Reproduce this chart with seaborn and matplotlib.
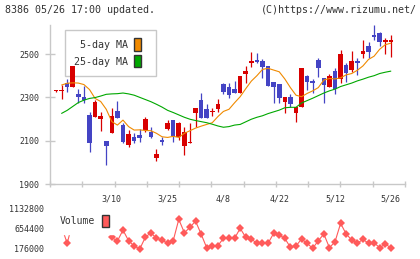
# -*- coding: utf-8 -*-
"""
Candlestick chart with moving averages and volume
"""

# import libraries
import numpy as np
import seaborn as sns
import matplotlib.pyplot as plt
from matplotlib.patches import Patch

# set theme
sns.set_theme(style="white")
plt.rcParams['font.family'] = ['DejaVu Sans Mono']

# daily prices (one entry per trading day)
opens = [2329, 2329, 2367, 2349, 2315, 2300, 2218, 2211, 2201, 2098,
         2134, 2238, 2172, 2080, 2118, 2126, 2149, 2141, 2019, 2103,
         2152, 2195, 2118, 2075, 2088, 2229, 2288, 2245, 2233, 2245,
         2362, 2349, 2337, 2321, 2406, 2460, 2472, 2468, 2445, 2372,
         2362, 2277, 2303, 2229, 2257, 2398, 2375, 2472, 2388, 2349,
         2423, 2383, 2449, 2426, 2468, 2499, 2537, 2588, 2595, 2557,
         2557]
highs = [2332, 2355, 2383, 2445, 2340, 2352, 2232, 2288, 2232, 2098,
         2251, 2283, 2180, 2149, 2134, 2154, 2211, 2164, 2060, 2118,
         2195, 2195, 2187, 2164, 2180, 2252, 2321, 2269, 2249, 2291,
         2367, 2367, 2375, 2398, 2445, 2511, 2503, 2475, 2445, 2372,
         2362, 2303, 2315, 2257, 2437, 2403, 2383, 2480, 2388, 2408,
         2434, 2518, 2460, 2514, 2483, 2565, 2557, 2634, 2603, 2572,
         2588]
lows = [2326, 2291, 2326, 2349, 2272, 2275, 2049, 2211, 2146, 1988,
        2134, 2206, 2088, 2069, 2088, 2095, 2141, 2111, 2008, 2080,
        2149, 2095, 2103, 2034, 2088, 2164, 2203, 2203, 2214, 2234,
        2314, 2299, 2318, 2321, 2367, 2439, 2457, 2388, 2354, 2275,
        2275, 2229, 2254, 2188, 2257, 2334, 2318, 2395, 2272, 2349,
        2314, 2365, 2372, 2418, 2403, 2483, 2480, 2565, 2537, 2499,
        2487]
closes = [2329, 2330, 2349, 2445, 2300, 2288, 2091, 2280, 2214, 2077,
          2214, 2206, 2095, 2131, 2100, 2111, 2199, 2118, 2038, 2092,
          2180, 2122, 2180, 2141, 2089, 2252, 2203, 2203, 2234, 2269,
          2326, 2311, 2318, 2398, 2421, 2468, 2463, 2441, 2354, 2349,
          2296, 2303, 2269, 2257, 2437, 2372, 2367, 2437, 2357, 2398,
          2338, 2500, 2411, 2468, 2460, 2514, 2508, 2580, 2557, 2558,
          2558]

# moving averages, from the second day on
ma5 = [2357, 2365, 2367, 2366, 2359, 2336, 2295, 2281, 2245, 2188,
       2172, 2195, 2165, 2149, 2150, 2147, 2146, 2134, 2118, 2115,
       2120, 2115, 2134, 2146, 2158, 2167, 2175, 2183, 2211, 2235,
       2245, 2275, 2303, 2340, 2375, 2400, 2429, 2434, 2426, 2418,
       2385, 2345, 2310, 2303, 2318, 2330, 2345, 2380, 2387, 2385,
       2390, 2404, 2410, 2425, 2445, 2475, 2490, 2522, 2543, 2550]
ma25 = [2226, 2240, 2258, 2276, 2287, 2295, 2299, 2306, 2314, 2316,
        2317, 2320, 2316, 2310, 2300, 2290, 2280, 2268, 2255, 2240,
        2230, 2219, 2208, 2199, 2193, 2188, 2183, 2176, 2168, 2162,
        2165, 2172, 2175, 2187, 2199, 2208, 2215, 2225, 2233, 2241,
        2252, 2254, 2254, 2274, 2285, 2296, 2308, 2320, 2330, 2338,
        2350, 2358, 2366, 2376, 2384, 2393, 2400, 2410, 2416, 2421]

# daily volume
volume = [750000, 700000, 297000, 820000, 650000, 900000, 850000, 700000,
          600000, 800000, 440000, 353000, 620000, 361000, 232000, 159000,
          443000, 555000, 419000, 377000, 297000, 361000, 880000, 555000,
          686000, 839000, 523000, 190000, 232000, 239000, 419000, 419000,
          419000, 662000, 443000, 402000, 297000, 297000, 297000, 540000,
          499000, 419000, 200000, 232000, 402000, 297000, 176000, 361000,
          523000, 190000, 336000, 783000, 523000, 377000, 297000, 394000,
          297000, 312000, 190000, 280000, 190000]

# date labels
label_days = [10, 20, 30, 40, 50, 60]
label_text = ['3/10', '3/25', '4/8', '4/22', '5/12', '5/26']

red = '#d80000'
blue = '#4444c4'
grey = '#c8c8c8'
text = '#333333'

days = np.arange(len(closes))
o = np.array(opens)
c = np.array(closes)
colors = np.where(c >= o, red, blue)

fig = plt.figure(figsize=(4.2, 2.59), dpi=100)
ax = fig.add_axes([50/420, 1 - 184/259, 355/420, 159/259])
axv = fig.add_axes([50/420, 1 - 253/259, 355/420, 49/259], sharex=ax)

# candles
ax.vlines(days, lows, highs, colors=colors, lw=0.9, zorder=2)
body = np.maximum(np.abs(c - o), 6)
ax.bar(days, body, bottom=np.minimum(o, c), width=0.82,
       color=colors, lw=0, zorder=2)

# moving averages
sns.lineplot(x=days[1:], y=ma5, ax=ax, color='#f08a00', lw=0.8, zorder=3)
sns.lineplot(x=days[1:], y=ma25, ax=ax, color='#00a800', lw=0.8, zorder=3)

ax.set_xlim(-1.08, 62.54)
ax.set_ylim(1900, 2634)
ax.set_xlabel('')
ax.set_ylabel('')
ax.set_yticks([1900, 2100, 2300, 2500])
ax.set_xticks(label_days)
ax.set_xticklabels(label_text)
ax.set_xticks(np.linspace(-1.08, 62.54, 12), minor=True)
for s in ['top', 'right']:
    ax.spines[s].set_visible(False)
for s in ['left', 'bottom']:
    ax.spines[s].set_color(grey)
    ax.spines[s].set_linewidth(1.0)
ax.tick_params(axis='y', left=True, direction='inout', length=7.2,
               width=1, color=grey, labelsize=6, labelcolor=text, pad=4.3)
ax.tick_params(axis='x', which='major', bottom=True, length=0,
               labelsize=6, labelcolor=text, pad=7.2)
ax.tick_params(axis='x', which='minor', bottom=True, direction='inout',
               length=4.75, width=1, color=grey)

# legend box spans a fixed width, content sits on the left,
# candles are drawn over it
leg = ax.legend(
    handles=[Patch(facecolor='#f08a00', edgecolor=text, lw=1),
             Patch(facecolor='#00a800', edgecolor=text, lw=1)],
    labels=['5-day MA', '25-day MA'],
    loc='upper left', bbox_to_anchor=(0.0423, 0.673, 0.2563, 0.2956),
    bbox_transform=ax.transAxes, borderaxespad=0, mode='expand',
    markerfirst=False, fontsize=7.2, labelcolor=text,
    handlelength=0.7, handleheight=1.5, handletextpad=0.6,
    labelspacing=0.45, borderpad=0.85, fancybox=False,
    framealpha=1, edgecolor=grey
    )
leg.get_frame().set_linewidth(1.0)
leg.set_zorder(1)

# volume
sns.lineplot(x=days, y=volume, ax=axv, color='#ff5a5a', lw=0.8,
             marker='D', markersize=4, markeredgewidth=0)
axv.set_ylim(61574, 1254530)
axv.set_xlabel('')
axv.set_ylabel('')
axv.set_yticks([176000, 654400, 1132800])
axv.set_yticklabels(['176000', '654400', '1132800'])
for s in axv.spines.values():
    s.set_visible(False)
axv.tick_params(axis='y', left=False, length=0, labelsize=6,
                labelcolor=text, pad=4.3)
axv.tick_params(axis='x', which='both', bottom=False, labelbottom=False)

legv = axv.legend(
    handles=[Patch(facecolor='#ff5a5a', edgecolor=text, lw=1)],
    labels=['Volume'],
    loc='center left', bbox_to_anchor=(0.006, 0.653),
    bbox_transform=axv.transAxes, borderaxespad=0,
    markerfirst=False, fontsize=7, labelcolor=text,
    handlelength=0.7, handleheight=1.55, handletextpad=0.8,
    borderpad=0.75, fancybox=False, framealpha=1, edgecolor='white'
    )
legv.set_zorder(5)

# header texts
fig.text(5/420, 1 - 10/259, '8386 05/26 17:00 updated.', ha='left',
         va='center', fontsize=7.2, color=text)
fig.text(417/420, 1 - 10/259, '(C)https://www.rizumu.net/', ha='right',
         va='center', fontsize=7.2, color=text)

plt.savefig('out.png', dpi=100)
